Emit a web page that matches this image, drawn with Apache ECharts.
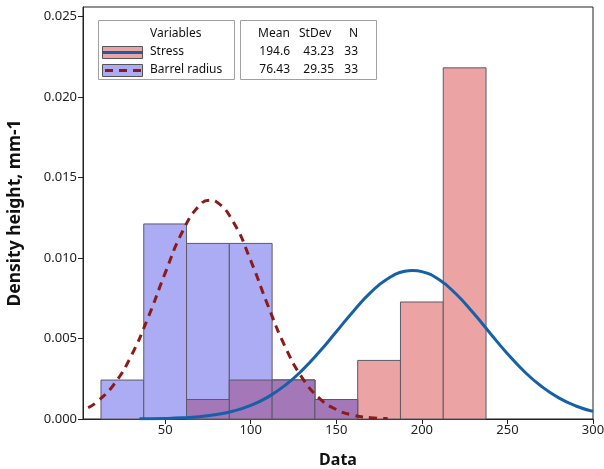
<!DOCTYPE html>
<html>
<head>
<meta charset="utf-8">
<script src="https://cdn.jsdelivr.net/npm/echarts@6/dist/echarts.min.js"></script>
<style>
  html, body { margin: 0; padding: 0; background: #fff; }
  #chart { width: 604px; height: 469px; }
</style>
</head>
<body>
<div id="chart"></div>
<script>
// histogram bins (left edge, right edge)
const binLeft = [12.5, 37.5, 62.5, 87.5, 112.5, 137.5, 162.5, 187.5, 212.5]
const binRight = [37.5, 62.5, 87.5, 112.5, 137.5, 162.5, 187.5, 212.5, 237.5]
// density heights
const stressDensity = [0, 0, 0.00121, 0.00242, 0.00242, 0.00121, 0.00364, 0.00727, 0.02182]
const barrelDensity = [0.00242, 0.01212, 0.01091, 0.01091, 0.00242, 0.00121, 0, 0, 0]

// fitted normal curves
const stressCurveX = [35, 50, 60, 70, 80, 90, 100, 110, 120, 130, 140, 150, 160, 170, 180, 190, 194.6, 200, 210, 220, 230, 240, 250, 260, 270, 280, 290, 300]
const stressCurveY = [0.00001, 0.000034, 0.000072, 0.000145, 0.000275, 0.000494, 0.000842, 0.00136, 0.002082, 0.003021, 0.004157, 0.00542, 0.006699, 0.007849, 0.008717, 0.009176, 0.009228, 0.009156, 0.008661, 0.007765, 0.006599, 0.005316, 0.004059, 0.002938, 0.002016, 0.001311, 0.000808, 0.000472]
const barrelCurveX = [5, 10, 20, 30, 40, 50, 60, 70, 76.43, 80, 90, 100, 110, 120, 130, 140, 150, 160, 170, 180]
const barrelCurveY = [0.000703, 0.00105, 0.002141, 0.003889, 0.006292, 0.009062, 0.011622, 0.013271, 0.013593, 0.013493, 0.012215, 0.009846, 0.007067, 0.004517, 0.00257, 0.001302, 0.000587, 0.000236, 0.000084, 0.000027]

// tick labels
const xTicks = [50, 100, 150, 200, 250, 300]
const yTicks = [0, 0.005, 0.01, 0.015, 0.02, 0.025]

// legend table
const legendNames = ['Stress', 'Barrel radius']
const legendMean = ['194.6', '76.43']
const legendStDev = ['43.23', '29.35']
const legendN = ['33', '33']

const font = '"Noto Sans", "Open Sans", sans-serif'

const rectSeries = (name, data, color, z) => ({
  name: name,
  type: 'custom',
  z: z,
  renderItem: (params, api) => {
    const h = api.value(2)
    if (!h) return null
    const p0 = api.coord([api.value(0), 0])
    const p1 = api.coord([api.value(1), h])
    return {
      type: 'rect',
      shape: { x: p0[0], y: p1[1], width: p1[0] - p0[0], height: p0[1] - p1[1] },
      style: { fill: color, stroke: '#5d5866', lineWidth: 1 }
    }
  },
  encode: { x: [0, 1], y: 2 },
  data: data
})

const stressBars = binLeft.map((l, i) => [l, binRight[i], stressDensity[i]])
const barrelBars = binLeft.map((l, i) => [l, binRight[i], barrelDensity[i]])
const overlapBars = binLeft.map((l, i) => [l, binRight[i], Math.min(stressDensity[i], barrelDensity[i])])

const chart = echarts.init(document.getElementById('chart'))

// legend graphics
const legendGraphics = [
  { type: 'rect', shape: { x: 98.5, y: 20.5, width: 136, height: 59 }, style: { fill: '#fff', stroke: '#a0a0a0', lineWidth: 1 } },
  { type: 'rect', shape: { x: 240.5, y: 20.5, width: 136, height: 59 }, style: { fill: '#fff', stroke: '#a0a0a0', lineWidth: 1 } },
  { type: 'text', style: { x: 150, y: 34, text: 'Variables', font: '12px ' + font, fill: '#111', verticalAlign: 'middle' } },
  { type: 'rect', shape: { x: 102.5, y: 46.5, width: 40, height: 12 }, style: { fill: '#eba3a3', stroke: '#555', lineWidth: 1 } },
  { type: 'line', shape: { x1: 103, y1: 52.5, x2: 142, y2: 52.5 }, style: { stroke: '#1560a8', lineWidth: 3 } },
  { type: 'rect', shape: { x: 102.5, y: 64.5, width: 40, height: 12 }, style: { fill: '#acacf5', stroke: '#555', lineWidth: 1 } },
  { type: 'line', shape: { x1: 105, y1: 70.5, x2: 142, y2: 70.5 }, style: { stroke: '#8b1a1a', lineWidth: 3, lineDash: [8, 6] } },
  { type: 'text', style: { x: 258, y: 34, text: 'Mean', font: '12px ' + font, fill: '#111', verticalAlign: 'middle' } },
  { type: 'text', style: { x: 299, y: 34, text: 'StDev', font: '12px ' + font, fill: '#111', verticalAlign: 'middle' } },
  { type: 'text', style: { x: 358, y: 34, text: 'N', font: '12px ' + font, fill: '#111', verticalAlign: 'middle', align: 'right' } }
]
legendNames.forEach((n, i) => {
  const y = 52 + i * 18
  legendGraphics.push(
    { type: 'text', style: { x: 150, y: y, text: n, font: '12px ' + font, fill: '#111', verticalAlign: 'middle' } },
    { type: 'text', style: { x: 290, y: y, text: legendMean[i], font: '12px ' + font, fill: '#111', verticalAlign: 'middle', align: 'right' } },
    { type: 'text', style: { x: 334, y: y, text: legendStDev[i], font: '12px ' + font, fill: '#111', verticalAlign: 'middle', align: 'right' } },
    { type: 'text', style: { x: 358, y: y, text: legendN[i], font: '12px ' + font, fill: '#111', verticalAlign: 'middle', align: 'right' } }
  )
})

const option = {
  backgroundColor: '#fff',
  animation: false,
  grid: { left: 83, right: 11, top: 7, bottom: 50, outerBoundsMode: 'none', containLabel: false, show: true, borderColor: '#222', borderWidth: 1 },
  xAxis: {
    type: 'value',
    min: 2,
    max: 300,
    name: 'Data',
    nameLocation: 'middle',
    nameGap: 33,
    nameTextStyle: { fontSize: 16, fontWeight: 'bold', fontFamily: font, color: '#111' },
    axisLine: { show: true, onZero: false, lineStyle: { color: '#222' } },
    axisTick: { show: true, length: 5, customValues: xTicks, lineStyle: { color: '#222' } },
    axisLabel: { customValues: xTicks, fontSize: 13, fontFamily: font, color: '#222', margin: 5 },
    splitLine: { show: false }
  },
  yAxis: {
    type: 'value',
    min: 0,
    max: 0.0256,
    name: 'Density height, mm-1',
    nameLocation: 'middle',
    nameGap: 59,
    nameTextStyle: { fontSize: 17.5, fontWeight: 'bold', fontFamily: font, color: '#111' },
    axisLine: { show: true, lineStyle: { color: '#222' } },
    axisTick: { show: true, length: 5, customValues: yTicks, lineStyle: { color: '#222' } },
    axisLabel: { customValues: yTicks, fontSize: 13, fontFamily: font, color: '#222', margin: 6, formatter: v => v.toFixed(3) },
    splitLine: { show: false }
  },
  graphic: legendGraphics,
  series: [
    rectSeries('Stress', stressBars, '#eba3a3', 1),
    rectSeries('Barrel radius', barrelBars, '#acacf5', 2),
    rectSeries('Overlap', overlapBars, '#a478b8', 3),
    {
      name: 'Stress fit',
      type: 'line',
      z: 5,
      smooth: true,
      symbol: 'none',
      lineStyle: { color: '#1560a8', width: 3 },
      data: stressCurveX.map((x, i) => [x, stressCurveY[i]])
    },
    {
      name: 'Barrel fit',
      type: 'line',
      z: 5,
      smooth: true,
      symbol: 'none',
      lineStyle: { color: '#8b1a1a', width: 3, type: [8, 6] },
      data: barrelCurveX.map((x, i) => [x, barrelCurveY[i]])
    }
  ]
}
chart.setOption(option)
</script>
</body>
</html>
